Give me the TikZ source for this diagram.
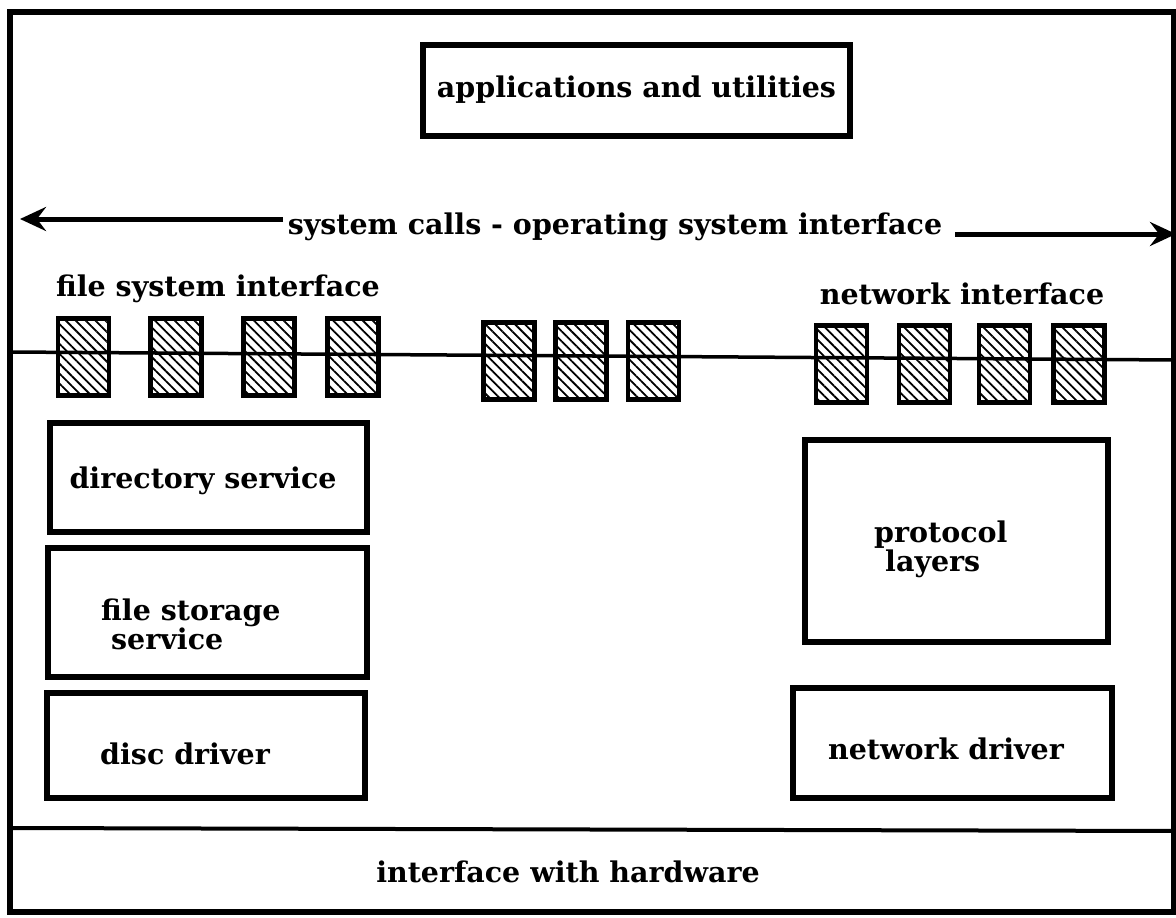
\documentclass[tikz,border=0pt]{standalone}
\usepackage{fontspec}
\setmainfont{DejaVu Serif}
\usetikzlibrary{arrows.meta,patterns.meta}
\begin{document}
\begin{tikzpicture}[x=1pt,y=-1pt,
  box/.style={draw,line width=6pt,inner sep=0pt},
  hbox/.style={draw,line width=4.5pt,minimum width=51pt,minimum height=77pt,inner sep=0pt,
    pattern={Lines[angle=-45,distance=7pt,line width=1.8pt]}},
  lbl/.style={font=\fontsize{28.5}{29}\selectfont\bfseries,inner sep=0pt},
  bigarrow/.style={line width=5pt,-{Stealth[length=26pt,width=24pt,inset=9pt]}}
]
\useasboundingbox (0,0) rectangle (1176,918);
% outer frame
\draw[line width=5.5pt] (10,12) -- (1174,12) -- (1174,912) -- (10,912) -- cycle;
% hardware band
\coordinate (hwL) at (10,828);
\coordinate (hwR) at (1176,831);
\draw[line width=4pt] (hwL) -- (hwR);
\node[lbl] (hw) at (568,872) {interface with hardware};
% applications
\node[box,minimum width=427pt,minimum height=91pt] (apps) at (636.5,90) {};
\node[lbl] (appst) at (636.5,90) {applications and utilities};
% system calls
\node[lbl] (sc) at (615,227) {system calls - operating system interface};
\coordinate (la) at (20,219);
\coordinate (ra) at (1176,234);
\coordinate (lstart) at (283,219);
\coordinate (rstart) at (955,234);
\draw[bigarrow] (lstart) -- (la);
\draw[bigarrow] (rstart) -- (ra);
% interface labels
\node[lbl] (fsi) at (218,289) {file system interface};
\node[lbl] (ni) at (962,294) {network interface};
% interface line
\coordinate (ilL) at (10,352);
\coordinate (ilR) at (1176,360);
\draw[line width=3.5pt] (ilL) -- (ilR);
% hatched boxes
\node[hbox] (h1) at (83.5,357) {};
\node[hbox] (h2) at (176,357) {};
\node[hbox] (h3) at (269,357) {};
\node[hbox] (h4) at (353,357) {};
\node[hbox] (h5) at (509,361) {};
\node[hbox] (h6) at (581,361) {};
\node[hbox] (h7) at (653.5,361) {};
\node[hbox] (h8) at (841.5,364) {};
\node[hbox] (h9) at (924.5,364) {};
\node[hbox] (h10) at (1004.5,364) {};
\node[hbox] (h11) at (1079,364) {};
% left stack
\node[box,minimum width=317pt,minimum height=109pt] (dir) at (208.5,477.5) {};
\node[lbl] (dirt) at (203,481) {directory service};
\node[box,minimum width=319pt,minimum height=129pt] (fss) at (207.5,612.5) {};
\node[lbl,align=left,anchor=west] (fsst) at (101,624) {file storage\\\hspace*{10pt}service};
\node[box,minimum width=318pt,minimum height=105pt] (disc) at (206,745.5) {};
\node[lbl] (disct) at (185,754) {disc driver};
% right stack
\node[box,minimum width=303pt,minimum height=202pt] (prot) at (956.5,541) {};
\node[lbl,align=left,anchor=west] (prott) at (874,549) {protocol\\\hspace*{11pt}layers};
\node[box,minimum width=319pt,minimum height=110pt] (net) at (952.5,743) {};
\node[lbl] (nett) at (946,749) {network driver};
\end{tikzpicture}
\end{document}
